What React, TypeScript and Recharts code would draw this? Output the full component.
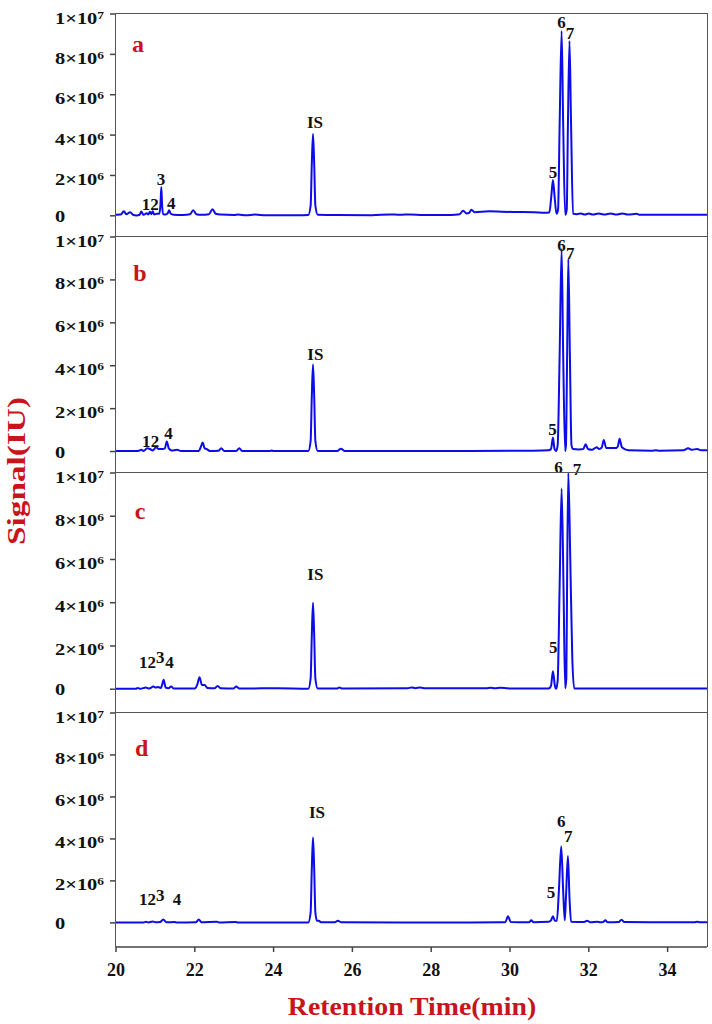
import React from 'react';
import { LineChart, Line, XAxis, YAxis, ReferenceDot } from 'recharts';

type Pt = [number, number];
type PeakLabel = [string, number, number];

const SERIF = '"Liberation Serif", "Times New Roman", serif';
const RED = '#c8141a';
const BLUE = '#0c0ce8';

// x axis (retention time, min)
const timeTicks = [20, 22, 24, 26, 28, 30, 32, 34];
// y axis (signal, in units of 10^6 IU)
const signalTicks = [0, 2, 4, 6, 8, 10];
const signalTickBase = ['0', '2×10', '4×10', '6×10', '8×10', '1×10'];
const signalTickExp = ['', '6', '6', '6', '6', '7'];

// chromatogram a  [time, signal ×10^6]
const traceA: Pt[] = [
  [20.0, 0.05], [20.12, 0.06], [20.2, 0.23], [20.26, 0.08], [20.36, 0.18], [20.44, 0.04], [20.52, 0.02],
  [20.6, 0.05], [20.64, 0.21], [20.7, 0.05], [20.78, 0.13], [20.82, 0.06], [20.86, 0.2], [20.9, 0.08],
  [20.93, 0.22], [20.97, 0.07], [21.03, 0.1], [21.1, 0.1], [21.13, 0.6], [21.15, 1.43], [21.17, 0.55],
  [21.2, 0.08], [21.24, 0.06], [21.31, 0.12], [21.35, 0.28], [21.39, 0.1], [21.46, 0.05], [21.7, 0.04],
  [21.88, 0.08], [21.96, 0.28], [22.04, 0.08], [22.16, 0.05], [22.36, 0.08], [22.45, 0.33], [22.53, 0.1],
  [22.65, 0.06], [23.0, 0.04], [23.1, 0.06], [23.3, 0.03], [23.53, 0.06], [23.8, 0.03], [24.6, 0.03],
  [24.88, 0.04], [24.94, 0.5], [24.97, 2.6], [25.0, 4.06], [25.03, 2.6], [25.06, 0.5], [25.12, 0.05],
  [25.6, 0.04], [26.5, 0.03], [26.96, 0.07], [27.2, 0.05], [27.47, 0.07], [27.8, 0.04], [28.5, 0.04],
  [28.72, 0.08], [28.81, 0.25], [28.9, 0.12], [28.96, 0.14], [29.02, 0.3], [29.1, 0.18], [29.47, 0.22],
  [29.8, 0.2], [30.2, 0.19], [30.6, 0.18], [30.9, 0.15], [31.0, 0.18], [31.05, 1.0], [31.09, 1.78],
  [31.13, 1.0], [31.18, 0.1], [31.22, 0.3], [31.26, 4.5], [31.31, 9.16], [31.35, 4.5], [31.4, 0.05],
  [31.44, 0.3], [31.47, 4.5], [31.51, 8.66], [31.55, 4.5], [31.6, 0.1], [31.7, 0.08], [31.8, 0.12],
  [31.9, 0.06], [32.0, 0.12], [32.1, 0.06], [32.25, 0.12], [32.4, 0.06], [32.55, 0.12], [32.7, 0.06],
  [32.85, 0.12], [33.0, 0.06], [33.21, 0.1], [33.3, 0.05], [34.0, 0.05], [35.0, 0.05],
];

// chromatogram b
const traceB: Pt[] = [
  [20.0, 0.02], [20.5, 0.02], [20.6, 0.05], [20.64, 0.08], [20.7, 0.03], [20.79, 0.15], [20.86, 0.12],
  [20.93, 0.05], [21.02, 0.2], [21.08, 0.12], [21.18, 0.12], [21.24, 0.15], [21.29, 0.47], [21.34, 0.15],
  [21.42, 0.05], [21.55, 0.08], [21.65, 0.02], [22.1, 0.03], [22.15, 0.2], [22.2, 0.42], [22.25, 0.15],
  [22.3, 0.12], [22.38, 0.03], [22.6, 0.04], [22.67, 0.15], [22.75, 0.03], [23.05, 0.03], [23.13, 0.15],
  [23.2, 0.03], [23.9, 0.02], [23.94, 0.05], [24.0, 0.02], [24.88, 0.02], [24.94, 0.5], [24.97, 2.6],
  [25.0, 4.06], [25.03, 2.6], [25.06, 0.5], [25.12, 0.03], [25.62, 0.03], [25.71, 0.13], [25.8, 0.03],
  [27.0, 0.02], [29.0, 0.02], [30.5, 0.04], [30.98, 0.06], [31.04, 0.12], [31.09, 0.65], [31.13, 0.12],
  [31.17, 0.02], [31.21, 0.3], [31.26, 4.5], [31.31, 9.44], [31.35, 4.5], [31.4, 0.02], [31.42, 0.3],
  [31.45, 4.5], [31.48, 8.98], [31.52, 4.5], [31.56, 0.3], [31.6, 0.12], [31.75, 0.1], [31.86, 0.12],
  [31.92, 0.34], [31.98, 0.12], [32.08, 0.08], [32.2, 0.2], [32.26, 0.12], [32.33, 0.2], [32.38, 0.54],
  [32.44, 0.17], [32.7, 0.17], [32.74, 0.25], [32.78, 0.6], [32.84, 0.2], [33.0, 0.06], [33.6, 0.04],
  [33.7, 0.06], [33.8, 0.04], [34.4, 0.06], [34.52, 0.15], [34.62, 0.08], [34.75, 0.12], [34.85, 0.06],
  [35.0, 0.06],
];

// chromatogram c
const traceC: Pt[] = [
  [20.0, 0.02], [20.5, 0.02], [20.55, 0.06], [20.62, 0.02], [20.76, 0.08], [20.84, 0.03], [20.95, 0.12],
  [21.01, 0.08], [21.07, 0.1], [21.14, 0.06], [21.17, 0.2], [21.21, 0.44], [21.26, 0.08], [21.33, 0.05],
  [21.4, 0.12], [21.47, 0.03], [22.0, 0.03], [22.06, 0.2], [22.12, 0.55], [22.18, 0.2], [22.25, 0.2],
  [22.32, 0.06], [22.5, 0.04], [22.58, 0.15], [22.66, 0.04], [22.98, 0.03], [23.05, 0.12], [23.13, 0.03],
  [23.7, 0.04], [24.1, 0.04], [24.88, 0.02], [24.94, 0.5], [24.97, 2.5], [25.0, 4.0], [25.03, 2.5],
  [25.06, 0.5], [25.12, 0.03], [25.6, 0.03], [25.67, 0.08], [25.75, 0.03], [27.4, 0.04], [27.5, 0.08],
  [27.6, 0.05], [27.72, 0.08], [27.85, 0.04], [29.4, 0.04], [29.5, 0.07], [29.62, 0.04], [29.75, 0.07],
  [29.9, 0.05], [30.0, 0.03], [30.98, 0.03], [31.04, 0.15], [31.09, 0.83], [31.14, 0.15], [31.17, 0.02],
  [31.21, 0.4], [31.26, 4.8], [31.31, 9.28], [31.36, 4.5], [31.4, 0.05], [31.43, 0.5], [31.45, 5.2],
  [31.48, 10.0], [31.53, 6.0], [31.58, 1.5], [31.63, 0.03], [35.0, 0.03],
];

// chromatogram d
const traceD: Pt[] = [
  [20.0, 0.02], [20.7, 0.02], [20.76, 0.05], [20.82, 0.02], [20.93, 0.06], [21.0, 0.03], [21.12, 0.04],
  [21.2, 0.16], [21.28, 0.03], [21.48, 0.04], [21.55, 0.02], [22.03, 0.03], [22.1, 0.16], [22.17, 0.03],
  [22.56, 0.05], [22.62, 0.02], [23.03, 0.04], [23.1, 0.02], [24.88, 0.02], [24.94, 0.5], [24.97, 2.6],
  [25.0, 4.07], [25.03, 2.6], [25.06, 0.5], [25.1, 0.1], [25.15, 0.1], [25.2, 0.03], [25.55, 0.03],
  [25.63, 0.1], [25.72, 0.03], [29.0, 0.02], [29.88, 0.03], [29.95, 0.32], [30.02, 0.04], [30.48, 0.03],
  [30.54, 0.12], [30.6, 0.03], [30.98, 0.05], [31.04, 0.12], [31.09, 0.32], [31.14, 0.1], [31.19, 0.1],
  [31.24, 1.5], [31.3, 3.65], [31.35, 1.5], [31.39, 0.12], [31.42, 1.2], [31.47, 3.19], [31.51, 1.2],
  [31.55, 0.05], [31.88, 0.04], [31.96, 0.1], [32.04, 0.03], [32.21, 0.05], [32.3, 0.03], [32.36, 0.04],
  [32.42, 0.12], [32.48, 0.03], [32.76, 0.04], [32.83, 0.15], [32.9, 0.04], [34.68, 0.03], [34.75, 0.05],
  [34.82, 0.03], [35.0, 0.03],
];

// peak annotations [text, time, signal ×10^6]
const peaksA: PeakLabel[] = [
  ['1', 20.76, 0.6], ['2', 20.98, 0.6], ['3', 21.14, 1.83], ['4', 21.4, 0.64],
  ['IS', 25.05, 4.65], ['5', 31.09, 2.18], ['6', 31.31, 9.62], ['7', 31.52, 9.07],
];
const peaksB: PeakLabel[] = [
  ['1', 20.77, 0.48], ['2', 20.99, 0.48], ['4', 21.33, 0.87],
  ['IS', 25.06, 4.56], ['5', 31.08, 1.05], ['6', 31.31, 9.63], ['7', 31.53, 9.24],
];
const peaksC: PeakLabel[] = [
  ['1', 20.69, 1.27], ['2', 20.91, 1.27], ['3', 21.12, 1.47], ['4', 21.36, 1.27],
  ['IS', 25.06, 5.31], ['5', 31.1, 1.96], ['6', 31.23, 10.3], ['7', 31.7, 10.2],
];
const peaksD: PeakLabel[] = [
  ['1', 20.69, 1.14], ['2', 20.91, 1.14], ['3', 21.12, 1.33], ['4', 21.55, 1.14],
  ['IS', 25.1, 5.3], ['5', 31.04, 1.49], ['6', 31.3, 4.87], ['7', 31.48, 4.14],
];

const panelLetters = ['a', 'b', 'c', 'd'];
const letterTimes = [20.56, 20.61, 20.61, 20.65];
const letterSignals = [8.4, 8.23, 8.15, 8.24];
const panelMins = [-1.05, -1.0, -1.1, -1.15];

const traces = [traceA, traceB, traceC, traceD];
const peakSets = [peaksA, peaksB, peaksC, peaksD];

// layout
const PLOT_LEFT = 116;
const PLOT_RIGHT_MARGIN = 5;
const TOP_PAD = 30;
const panelTops = [14, 237, 473, 713];
const panelHeights = [223, 236, 240, 234];
const X_AXIS_H = 45;

const SignalTick = (props: any) => {
  const { y, payload } = props;
  const i = signalTicks.indexOf(payload.value);
  const zero = signalTickExp[i] === '';
  return (
    <g transform={`translate(55 ${y + (zero ? 6 : 9.5)}) scale(1.28 1)`}>
      <text x={0} y={0} fontSize={16} fontWeight="bold" fill="#111" fontFamily={SERIF}>
        {signalTickBase[i]}
        {!zero && (
          <tspan dy={-5} fontSize={10.5}>
            {signalTickExp[i]}
          </tspan>
        )}
      </text>
    </g>
  );
};

const Panel = ({ idx }: { idx: number }) => {
  const data = traces[idx].map(([t, v]) => ({ t, v }));
  const last = idx === 3;
  const height = TOP_PAD + panelHeights[idx] + (last ? X_AXIS_H : 0);
  return (
    <div style={{ position: 'absolute', left: 0, top: panelTops[idx] - TOP_PAD, width: 712, height }}>
      <LineChart
        width={712}
        height={height}
        data={data}
        margin={{ top: TOP_PAD, right: PLOT_RIGHT_MARGIN, bottom: 0, left: 0 }}
      >
        <XAxis
          type="number"
          dataKey="t"
          domain={[20, 35]}
          allowDataOverflow
          ticks={timeTicks}
          hide={!last}
          height={X_AXIS_H}
          axisLine={{ stroke: '#444', strokeWidth: 1.5 }}
          tickLine={{ stroke: '#444', strokeWidth: 1.5 }}
          tickSize={5}
          tickMargin={11}
          tick={{ fontSize: 18, fontWeight: 'bold', fill: '#111', fontFamily: SERIF }}
        />
        <YAxis
          type="number"
          domain={[panelMins[idx], 10]}
          allowDataOverflow
          ticks={signalTicks}
          width={PLOT_LEFT}
          axisLine={false}
          tickLine={{ stroke: '#444', strokeWidth: 1.5 }}
          tickSize={6}
          tick={<SignalTick />}
          interval={0}
        />
        <Line
          type="monotone"
          dataKey="v"
          stroke={BLUE}
          strokeWidth={2}
          dot={false}
          isAnimationActive={false}
          strokeLinejoin="round"
        />
        <ReferenceDot
          x={letterTimes[idx]}
          y={letterSignals[idx]}
          r={0}
          ifOverflow="visible"
          shape={(p: any) => (
            <text
              x={p.cx}
              y={p.cy + 6}
              textAnchor="middle"
              fontSize={24}
              fontWeight="bold"
              fill={RED}
              fontFamily={SERIF}
            >
              {panelLetters[idx]}
            </text>
          )}
        />
        {peakSets[idx].map(([txt, t, s], k) => (
          <ReferenceDot
            key={k}
            x={t}
            y={s}
            r={0}
            ifOverflow="visible"
            shape={(p: any) => (
              <text
                x={p.cx}
                y={p.cy + 6}
                textAnchor="middle"
                fontSize={17}
                fontWeight="bold"
                fill="#111"
                fontFamily={SERIF}
              >
                {txt}
              </text>
            )}
          />
        ))}
      </LineChart>
    </div>
  );
};

export default function App() {
  return (
    <div
      style={{
        position: 'absolute',
        left: 0,
        top: 0,
        width: 712,
        height: 1024,
        background: '#fff',
        overflow: 'hidden',
        fontFamily: SERIF,
      }}
    >
      {[0, 1, 2, 3].map((i) => (
        <Panel key={i} idx={i} />
      ))}
      {[0, 1, 2, 3].map((i) => (
        <div
          key={'box' + i}
          style={{
            position: 'absolute',
            left: PLOT_LEFT - 1,
            top: panelTops[i] - 0.75,
            width: 712 - PLOT_RIGHT_MARGIN - PLOT_LEFT + 2,
            height: panelHeights[i] + 0.75,
            boxSizing: 'border-box',
            borderTop: '1.5px solid #555',
            borderLeft: '1.5px solid #555',
            borderRight: '1.5px solid #555',
            pointerEvents: 'none',
          }}
        />
      ))}
      <svg
        width={712}
        height={1024}
        style={{ position: 'absolute', left: 0, top: 0, pointerEvents: 'none' }}
      >
        <g transform="translate(25 471) rotate(-90) scale(1.28 1)">
          <text x={0} y={0} textAnchor="middle" fontSize={26} fontWeight="bold" fill={RED} fontFamily={SERIF}>
            Signal(IU)
          </text>
        </g>
        <g transform="translate(412 1015) scale(1.07 1)">
          <text x={0} y={0} textAnchor="middle" fontSize={26} fontWeight="bold" fill={RED} fontFamily={SERIF}>
            Retention Time(min)
          </text>
        </g>
      </svg>
    </div>
  );
}
